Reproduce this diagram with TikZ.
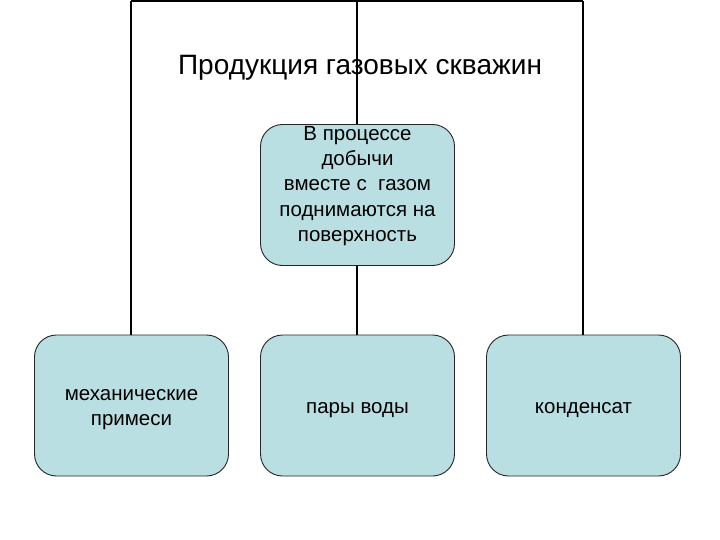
\documentclass[tikz,border=0pt]{standalone}
\usepackage{fontspec}
\setmainfont{Liberation Sans}
\definecolor{boxfill}{HTML}{B9DFE2}
\begin{document}
\begin{tikzpicture}[x=1pt,y=-1pt,
  box/.style={draw=black!85,line width=0.9pt,fill=boxfill,rounded corners=22pt,
    minimum width=194pt,minimum height=141pt,inner sep=0pt},
  txt/.style={align=center,inner sep=0pt,font=\fontsize{20.5}{25}\selectfont},
  conn/.style={draw=black,line width=2pt}]
\useasboundingbox (0,0) rectangle (720,540);
\coordinate (tl) at (131,1.5);
\coordinate (tm) at (357,1.5);
\coordinate (tr) at (583,1.5);
\node[box] (top) at (357.5,195) {};
\node[txt,font=\fontsize{20.5}{25.3}\selectfont] (toptext) at (357.5,186) {В процессе\\ добычи\\ вместе с\ \ газом\\ поднимаются на\\ поверхность};
\node[box] (b1) at (131.5,405.5) {};
\node[box] (b2) at (357.5,405.5) {};
\node[box] (b3) at (583.5,405.5) {};
\node[txt] (t1) at (b1.center) [yshift=-4.5pt] {механические\\ примеси};
\node[txt] (t2) at (b2.center) [yshift=-4.5pt] {пары воды};
\node[txt] (t3) at (b3.center) [yshift=-4.5pt] {конденсат};
\path[conn] (tl) -- (tr);
\path[conn] (tl) -- (tl |- b1.north);
\path[conn] (tr) -- (tr |- b3.north);
\path[conn] (tm) -- (tm |- top.north);
\path[conn] (tm |- top.south) -- (tm |- b2.north);
\node (title) at (360,68) {\fontsize{28}{32}\selectfont Продукция газовых скважин};
\end{tikzpicture}
\end{document}
